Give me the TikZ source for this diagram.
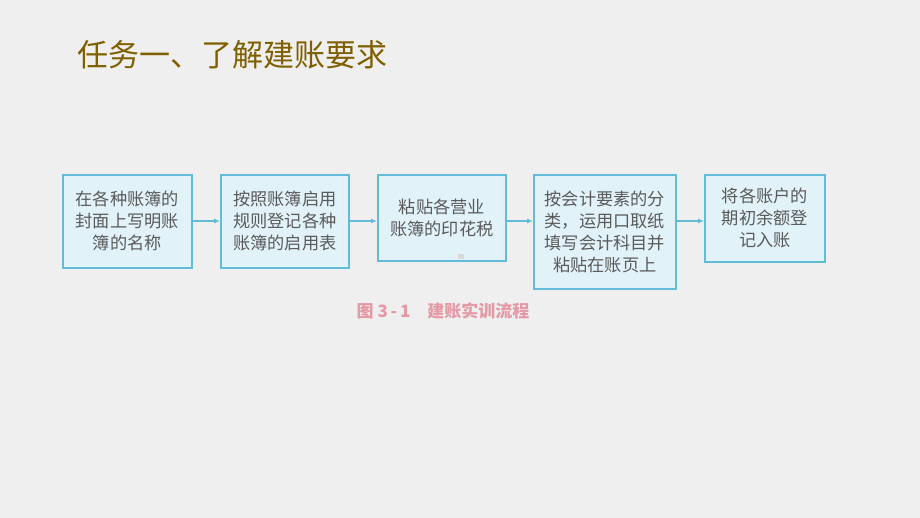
\documentclass[tikz,border=0pt]{standalone}
\usepackage{fontspec}
\newfontfamily\cjk{Noto Sans CJK SC}
\usetikzlibrary{arrows, calc, positioning}
\definecolor{bgGray}{HTML}{EFEFEF}
\definecolor{boxFill}{HTML}{E1F2F9}
\definecolor{boxLine}{HTML}{62BCD8}
\definecolor{titleGold}{HTML}{7F6000}
\definecolor{capRed}{HTML}{E49AA6}
\definecolor{stepText}{HTML}{5A5A5A}
\tikzset{
    stepBox/.style={draw=boxLine, line width=1.6pt, fill=boxFill, anchor=north west, align=center, inner sep=0pt, text=stepText, font=\cjk\fontsize{17.2}{22}\selectfont},
    stepArrow/.style={-{Latex[length=6pt, width=5pt]}, boxLine, line width=1.1pt},
}
\usetikzlibrary{arrows.meta}
\newcommand{\stepLink}[2]{
    \draw[stepArrow] (#1.east |- lvl) -- (#2.west |- lvl);
}

\begin{document}
\begin{tikzpicture}[x=1pt, y=-1pt]
        \useasboundingbox[fill=bgGray] (0,0) rectangle (920,518);

        \node[anchor=west, text=titleGold, font=\cjk\fontsize{31}{36}\selectfont] (title) at (74,55) {任务一、了解建账要求};

        \node[stepBox, minimum width=129, minimum height=93] (s1) at (62,174) {在各种账簿的\\封面上写明账\\簿的名称};
        \node[stepBox, minimum width=128, minimum height=93] (s2) at (220,174) {按照账簿启用\\规则登记各种\\账簿的启用表};
        \node[stepBox, minimum width=128, minimum height=86] (s3) at (377,174) {粘贴各营业\\账簿的印花税};
        \node[stepBox, minimum width=142, minimum height=114] (s4) at (533,174) {按会计要素的分\\类，运用口取纸\\填写会计科目并\\粘贴在账页上};
        \node[stepBox, minimum width=120, minimum height=87] (s5) at (704,174) {将各账户的\\期初余额登\\记入账};
        \fill[black!15] (458,254) rectangle (464,259);

        \coordinate (lvl) at (0,221);
        \stepLink{s1}{s2}
        \stepLink{s2}{s3}
        \stepLink{s3}{s4}
        \stepLink{s4}{s5}

        \node[text=capRed, font=\cjk\bfseries\fontsize{17}{20}\selectfont] (cap) at (443,311) {图 3\,{-}\,1\quad 建账实训流程};
    \end{tikzpicture}
\end{document}
